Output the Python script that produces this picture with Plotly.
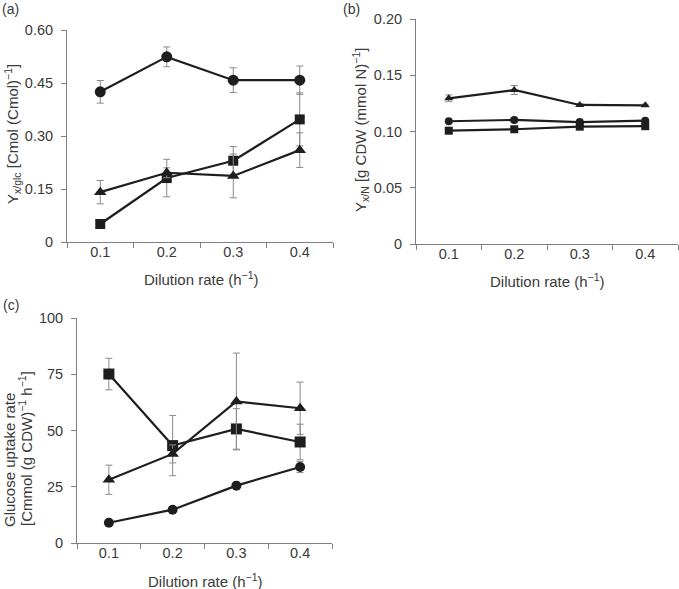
import plotly.graph_objects as go

# ---------------- data ----------------
dilution = [0.1, 0.2, 0.3, 0.4]
tick_labels = ["0.1", "0.2", "0.3", "0.4"]

# (a) Y x/glc
a_circle = [0.425, 0.524, 0.458, 0.458]
a_circle_err = [0.032, 0.028, 0.035, 0.040]
a_square = [0.051, 0.181, 0.230, 0.347]
a_square_err = [0.0, 0.053, 0.040, 0.075]
a_triangle = [0.141, 0.196, 0.187, 0.260]
a_triangle_err = [0.033, 0.014, 0.062, 0.049]

# (b) Y x/N
b_circle = [0.1091, 0.1103, 0.1084, 0.1096]
b_circle_err = [0.001, 0.001, 0.001, 0.001]
b_square = [0.1007, 0.1020, 0.1043, 0.1047]
b_square_err = [0.001, 0.001, 0.001, 0.001]
b_triangle = [0.1295, 0.1369, 0.1236, 0.1233]
b_triangle_err = [0.003, 0.004, 0.001, 0.001]

# (c) glucose uptake rate
c_circle = [9.0, 14.8, 25.5, 33.8]
c_circle_err = [0.5, 0.8, 1.0, 2.5]
c_square = [75.1, 43.3, 50.7, 44.9]
c_square_err = [7.0, 13.4, 9.0, 7.9]
c_triangle = [28.1, 39.6, 62.9, 59.9]
c_triangle_err = [6.5, 4.0, 21.5, 11.6]

a_yticks = [0, 0.15, 0.30, 0.45, 0.60]
a_yticklabels = ["0", "0.15", "0.30", "0.45", "0.60"]
b_yticks = [0, 0.05, 0.10, 0.15, 0.20]
b_yticklabels = ["0", "0.05", "0.10", "0.15", "0.20"]
c_yticks = [0, 25, 50, 75, 100]
c_yticklabels = ["0", "25", "50", "75", "100"]
x_boundaries = [0.05, 0.15, 0.25, 0.35, 0.45]

# ---------------- styling ----------------
W, H = 679, 589
FONT = "Liberation Sans, Arial, Helvetica, sans-serif"
TXT = "#3a3a3a"
LINE = "#1e1e1e"
ERR = "#8a8a8a"
AXC = "#808080"
TICK_SIZE = 14.5
TITLE_SIZE = 15

fig = go.Figure()

def add_series(xa, ya, y, err, symbol, size):
    fig.add_trace(go.Scatter(
        x=dilution, y=y, xaxis=xa, yaxis=ya, mode="lines+markers",
        line=dict(color=LINE, width=2.2),
        marker=dict(symbol=symbol, size=size, color=LINE, line=dict(width=0)),
        error_y=dict(type="data", array=err, visible=True, color=ERR,
                     thickness=1, width=3.5),
        showlegend=False, hoverinfo="skip"))

add_series("x", "y", a_circle, a_circle_err, "circle", 11)
add_series("x", "y", a_square, a_square_err, "square", 10)
add_series("x", "y", a_triangle, a_triangle_err, "triangle-up", 11)

add_series("x2", "y2", b_circle, b_circle_err, "circle", 8)
add_series("x2", "y2", b_square, b_square_err, "square", 8)
add_series("x2", "y2", b_triangle, b_triangle_err, "triangle-up", 8)

add_series("x3", "y3", c_circle, c_circle_err, "circle", 10)
add_series("x3", "y3", c_square, c_square_err, "square", 11)
add_series("x3", "y3", c_triangle, c_triangle_err, "triangle-up", 11)

def xaxis(x0, x1, anchor, yoff):
    return dict(domain=[x0 / W, x1 / W], anchor=anchor, range=[0.05, 0.45],
                automargin=False,
                showline=True, linecolor=AXC, linewidth=1, showgrid=False,
                zeroline=False, tickmode="array", tickvals=dilution,
                ticktext=tick_labels, ticks="",
                ticklabelstandoff=yoff,
                tickfont=dict(family=FONT, size=TICK_SIZE, color=TXT),
                minor=dict(tickmode="array", tickvals=x_boundaries,
                           ticks="outside", ticklen=5, tickcolor=AXC,
                           tickwidth=1, showgrid=False))

def yaxis(py0, py1, anchor, rng, tv, tt):
    return dict(domain=[1 - py0 / H, 1 - py1 / H], anchor=anchor, range=rng,
                automargin=False,
                showline=True, linecolor=AXC, linewidth=1, showgrid=False,
                zeroline=False, tickmode="array", tickvals=tv, ticktext=tt,
                ticks="outside", ticklen=5, tickcolor=AXC, tickwidth=1,
                ticklabelstandoff=5,
                tickfont=dict(family=FONT, size=TICK_SIZE, color=TXT))

fig.update_layout(
    width=W, height=H, margin=dict(l=0, r=0, t=0, b=0, autoexpand=False),
    paper_bgcolor="white", plot_bgcolor="white",
    xaxis=xaxis(67, 333, "y", -3),
    yaxis=yaxis(242, 30, "x", [0, 0.6], a_yticks, a_yticklabels),
    xaxis2=xaxis(416, 678, "y2", -3),
    yaxis2=yaxis(244, 19, "x2", [0, 0.2], b_yticks, b_yticklabels),
    xaxis3=xaxis(77, 332, "y3", -3),
    yaxis3=yaxis(543, 318, "x3", [0, 100], c_yticks, c_yticklabels),
)

def ann(text, px, py, angle=0, size=TITLE_SIZE, xanchor="center", yanchor="middle"):
    fig.add_annotation(text=text, x=px / W, y=1 - py / H, xref="paper",
                       yref="paper", showarrow=False, textangle=angle,
                       xanchor=xanchor, yanchor=yanchor,
                       font=dict(family=FONT, size=size, color=TXT))

# panel labels
ann("(a)", 0, 9, xanchor="left", size=14)
ann("(b)", 341, 9, xanchor="left", size=14)
ann("(c)", 1, 305, xanchor="left", size=14)

# x titles
ann("Dilution rate (h<sup>−1</sup>)", 201, 278)
ann("Dilution rate (h<sup>−1</sup>)", 547, 280)
ann("Dilution rate (h<sup>−1</sup>)", 205, 580)

# y titles
ann("Y<sub>x/glc</sub> [Cmol (Cmol)<sup>−1</sup>]", 12, 134, angle=-90)
ann("Y<sub>x/N</sub> [g CDW (mmol N)<sup>−1</sup>]", 361, 130, angle=-90)
ann("Glucose uptake rate", 9, 460, angle=-90)
ann("[Cmmol (g CDW)<sup>−1</sup> h<sup>−1</sup>]", 25, 449, angle=-90)

fig.write_html("out.html",
               config={"displayModeBar": False, "staticPlot": True},
               post_script="document.body.style.margin='0';"
                           "document.body.style.padding='0';"
                           "document.body.style.overflow='hidden';")
